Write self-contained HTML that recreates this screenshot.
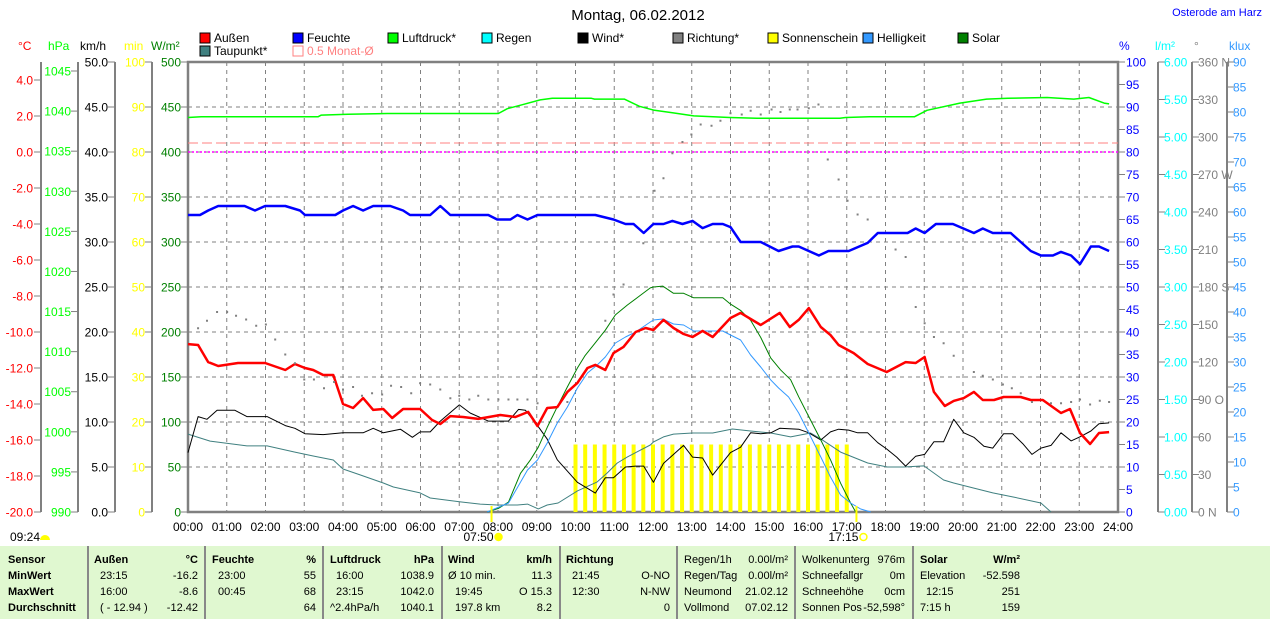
<!DOCTYPE html>
<html><head><meta charset="utf-8">
<style>
html,body{margin:0;padding:0;background:#fff;}
body{width:1270px;height:619px;overflow:hidden;position:relative;font-family:"Liberation Sans",sans-serif;}
svg{position:absolute;left:0;top:0;}
#tbl{position:absolute;left:0;top:546px;width:1270px;height:73px;background:#e0f8d0;font-size:11px;color:#000;}
#tbl .c{position:absolute;top:0;height:73px;border-left:2px solid #888;}
#tbl span{position:absolute;white-space:nowrap;}
#tbl .b{font-weight:bold;}
</style></head><body>
<svg id="chart" width="1270" height="619" xmlns="http://www.w3.org/2000/svg" font-family="Liberation Sans, sans-serif">
<text x="638" y="20" font-size="15" text-anchor="middle" fill="#000">Montag, 06.02.2012</text>
<text x="1262" y="16" font-size="11" text-anchor="end" fill="#0000ff">Osterode am Harz</text>
<g id="legend"></g>
<g id="axes"></g>
<g id="grid"></g>
<g id="series"></g>
</svg>
<div id="tbl">
<div class="c" style="left:87px"></div><div class="c" style="left:204px"></div><div class="c" style="left:322px"></div><div class="c" style="left:441px"></div><div class="c" style="left:559px"></div><div class="c" style="left:676px"></div><div class="c" style="left:794px"></div><div class="c" style="left:912px"></div>
<span class="b" style="left:8px;top:8px">Sensor</span><span class="b" style="left:8px;top:24px">MinWert</span><span class="b" style="left:8px;top:40px">MaxWert</span><span class="b" style="left:8px;top:56px">Durchschnitt</span>
<span class="b" style="left:94px;top:8px">Außen</span><span class="b" style="right:1072px;top:8px">°C</span>
<span style="left:100px;top:24px">23:15</span><span style="right:1072px;top:24px">-16.2</span>
<span style="left:100px;top:40px">16:00</span><span style="right:1072px;top:40px">-8.6</span>
<span style="left:100px;top:56px">( - 12.94 )</span><span style="right:1072px;top:56px">-12.42</span>
<span class="b" style="left:212px;top:8px">Feuchte</span><span class="b" style="right:954px;top:8px">%</span>
<span style="left:218px;top:24px">23:00</span><span style="right:954px;top:24px">55</span>
<span style="left:218px;top:40px">00:45</span><span style="right:954px;top:40px">68</span>
<span style="right:954px;top:56px">64</span>
<span class="b" style="left:330px;top:8px">Luftdruck</span><span class="b" style="right:836px;top:8px">hPa</span>
<span style="left:336px;top:24px">16:00</span><span style="right:836px;top:24px">1038.9</span>
<span style="left:336px;top:40px">23:15</span><span style="right:836px;top:40px">1042.0</span>
<span style="left:330px;top:56px">^2.4hPa/h</span><span style="right:836px;top:56px">1040.1</span>
<span class="b" style="left:448px;top:8px">Wind</span><span class="b" style="right:718px;top:8px">km/h</span>
<span style="left:448px;top:24px">Ø 10 min.</span><span style="right:718px;top:24px">11.3</span>
<span style="left:455px;top:40px">19:45</span><span style="right:718px;top:40px">O 15.3</span>
<span style="left:455px;top:56px">197.8 km</span><span style="right:718px;top:56px">8.2</span>
<span class="b" style="left:566px;top:8px">Richtung</span>
<span style="left:572px;top:24px">21:45</span><span style="right:600px;top:24px">O-NO</span>
<span style="left:572px;top:40px">12:30</span><span style="right:600px;top:40px">N-NW</span>
<span style="right:600px;top:56px">0</span>
<span style="left:684px;top:8px">Regen/1h</span><span style="right:482px;top:8px">0.00l/m²</span>
<span style="left:684px;top:24px">Regen/Tag</span><span style="right:482px;top:24px">0.00l/m²</span>
<span style="left:684px;top:40px">Neumond</span><span style="right:482px;top:40px">21.02.12</span>
<span style="left:684px;top:56px">Vollmond</span><span style="right:482px;top:56px">07.02.12</span>
<span style="left:802px;top:8px">Wolkenunterg</span><span style="right:365px;top:8px">976m</span>
<span style="left:802px;top:24px">Schneefallgr</span><span style="right:365px;top:24px">0m</span>
<span style="left:802px;top:40px">Schneehöhe</span><span style="right:365px;top:40px">0cm</span>
<span style="left:802px;top:56px">Sonnen Pos</span><span style="right:365px;top:56px">-52,598°</span>
<span class="b" style="left:920px;top:8px">Solar</span><span class="b" style="right:250px;top:8px">W/m²</span>
<span style="left:920px;top:24px">Elevation</span><span style="right:250px;top:24px">-52.598</span>
<span style="left:926px;top:40px">12:15</span><span style="right:250px;top:40px">251</span>
<span style="left:920px;top:56px">7:15 h</span><span style="right:250px;top:56px">159</span>
</div>
<script>
// ---- data ----
const tempTimes=[0,0.26,0.52,0.78,1.29,1.99,2.51,2.76,3.02,3.23,3.49,3.75,4.0,4.26,4.52,4.78,5.04,5.27,5.55,5.99,6.30,6.51,6.77,7.10,7.49,8.06,8.45,8.78,9.02,9.27,9.53,9.79,10.05,10.31,10.51,10.77,10.98,11.24,11.55,11.81,12.01,12.27,12.53,12.79,13.02,13.28,13.54,14.0,14.26,14.78,15.27,15.53,15.76,16.02,16.33,16.58,16.79,17.18,17.54,18.03,18.52,18.78,19.01,19.25,19.53,19.76,20.02,20.28,20.51,20.80,21.05,21.49,21.75,22.06,22.53,22.76,23.02,23.28,23.51,23.77];
const tempValues=[-10.67,-10.72,-11.67,-11.89,-11.72,-11.72,-12.11,-11.78,-12.0,-12.11,-12.39,-12.39,-14.0,-14.22,-13.67,-14.33,-14.28,-14.78,-14.28,-14.28,-14.89,-15.11,-14.67,-14.72,-14.83,-14.61,-14.72,-14.44,-15.22,-14.22,-14.17,-13.33,-12.83,-12.0,-11.83,-12.11,-11.17,-10.83,-10.0,-9.78,-9.89,-9.33,-9.78,-10.11,-10.28,-9.94,-10.28,-9.22,-8.94,-9.61,-8.94,-9.72,-9.33,-8.67,-9.72,-10.17,-10.72,-11.17,-11.78,-12.22,-11.67,-11.72,-11.39,-13.33,-14.11,-13.83,-13.67,-13.33,-13.78,-13.78,-13.61,-13.61,-13.78,-13.78,-14.5,-14.28,-15.61,-16.22,-15.61,-15.56];
const humTimes=[0,0.31,0.52,0.78,1.46,1.73,1.99,2.51,2.89,3.02,3.80,4.0,4.26,4.52,4.78,5.22,5.55,5.73,6.25,6.51,6.77,7.75,7.98,8.32,8.50,8.76,9.02,10.51,10.98,11.29,11.50,11.76,12.01,12.27,12.50,12.76,13.02,13.28,13.54,13.80,14.0,14.26,14.78,15.24,15.60,15.76,16.28,16.53,17.05,17.54,17.80,18.57,18.78,19.01,19.30,19.74,20.28,20.51,20.77,21.23,21.75,22.01,22.32,22.53,22.79,23.02,23.30,23.51,23.77];
const humValues=[66,66,67,68,68,67,68,68,67,66,66,67,68,67,68,68,67,66,66,68,66,66,65,65,66,65,66,66,65,64,64,62,64,64,64.7,64,64.7,63.1,64,64,63.3,60,60,58,59,59,57,58,58,59.8,62,62,63,62,64,64,62,63,62,62,58,57,57,57.8,57,55.1,59,59,58];
const presTimes=[0,0.34,3.36,3.44,4.13,5.14,8.01,8.24,8.63,9.09,9.40,10.41,10.49,11.26,11.65,12.04,12.50,13.05,13.98,14.67,16.82,16.97,17.59,18.75,19.07,19.92,20.61,21.16,22.17,22.86,23.25,23.64,23.77];
const presValues=[1039.2,1039.3,1039.3,1039.5,1039.6,1039.7,1039.7,1040.3,1040.8,1041.4,1041.6,1041.6,1041.5,1041.5,1040.6,1040.1,1039.8,1039.4,1039.2,1039.1,1039.1,1039.2,1039.3,1039.3,1040.1,1041.0,1041.5,1041.6,1041.7,1041.5,1041.7,1041.0,1040.9];
const windTimes=[0,0.26,0.49,0.75,1.21,1.52,2.04,2.51,2.76,3.02,3.49,4.0,4.52,4.78,5.04,5.48,5.79,5.99,6.25,6.51,7.0,7.28,7.75,8.27,8.53,8.71,9.02,9.27,9.53,10.05,10.51,10.77,10.98,11.29,11.55,11.76,12.01,12.27,12.79,13.02,13.28,13.54,14.0,14.26,14.52,14.78,15.04,15.27,15.76,16.02,16.33,16.58,16.79,17.05,17.28,17.54,17.80,18.03,18.29,18.52,18.78,19.01,19.25,19.50,19.76,20.02,20.28,20.54,20.77,21.05,21.28,21.54,21.78,22.01,22.27,22.53,22.79,23.04,23.30,23.51,23.77];
const windValues=[6.6,10.6,10.3,11.3,11.3,10.6,10.6,9.6,9.3,8.7,8.6,8.8,8.8,9.3,8.8,9.2,8.3,8.9,8.9,10.1,11.9,11.0,10.1,10.1,11.4,11.3,9.6,8.1,5.8,3.3,2.1,3.8,3.8,5.0,5.1,5.1,3.3,5.4,7.4,6.1,6.0,4.1,6.6,7.2,8.8,8.7,8.8,9.3,9.2,8.8,8.0,8.9,9.2,9.1,8.8,8.8,7.7,7.0,6.1,5.1,6.2,6.4,7.8,7.8,10.3,8.8,8.3,7.3,7.1,8.7,8.7,7.6,6.4,7.1,7.4,8.8,7.9,8.4,9.0,9.8,9.9];
const solarTimes=[7.72,8.01,8.27,8.58,8.84,9.04,9.27,9.53,9.79,10.05,10.25,10.51,10.77,11.03,11.34,11.62,11.93,12.01,12.25,12.53,12.79,13.05,13.80,14.0,14.26,14.52,14.78,15.04,15.29,15.55,15.76,16.02,16.33,16.58,16.84,17.10,17.23];
const solarValues=[0,4,11,43,58,72,94,117,139,160,174,188,202,219,230,239,249,250,251,243,243,238,238,231,224,213,194,171,158,147,128,106,80,58,32,10,0];
const luxTimes=[7.72,8.27,8.76,9.02,9.27,9.53,9.79,10.05,10.31,10.56,10.77,11.03,11.29,11.55,11.93,12.01,12.25,12.53,12.79,13.05,13.80,14.0,14.26,14.52,14.78,15.04,15.24,15.50,15.76,16.02,16.33,16.58,16.84,17.10,17.36,17.62];
const luxValues=[0,1.8,8.4,10.4,13.8,17.8,21,24.8,27.8,29.4,31,33.8,35,36,38,38.4,38.6,37.6,37.4,36.2,36.2,35.4,34.4,31.4,29,26.4,24.8,23,19.8,15.8,11,7,3.4,1.8,0.6,0];
const dewTimes=[0,0.57,1.52,2.04,2.76,3.23,3.75,4.0,4.44,5.04,5.30,5.99,6.25,7.03,7.54,7.98,8.50,8.76,9.04,9.27,9.55,10.05,10.56,10.82,11.08,11.34,11.93,12.01,12.27,12.53,13.02,13.54,14.05,14.52,15.04,15.55,16.07,16.33,16.84,17.54,18.05,18.47,18.99,19.50,19.76,20.28,20.77,21.31,22.01,22.27];
const dewValues=[-15.67,-16.06,-16.33,-16.33,-16.67,-16.89,-17.11,-17.61,-17.94,-18.39,-18.61,-18.94,-19.22,-19.44,-19.56,-19.61,-19.61,-19.56,-19.83,-19.61,-19.5,-18.83,-18.33,-17.83,-17.28,-16.94,-16.28,-16.11,-15.83,-15.67,-15.61,-15.61,-15.39,-15.5,-15.61,-15.83,-15.61,-15.94,-16.67,-17.28,-17.5,-17.5,-17.44,-18.22,-18.39,-18.67,-18.94,-19.17,-19.5,-20];
const dirTimes=[0.26,0.49,0.75,1.01,1.24,1.50,1.76,2.01,2.25,2.51,2.76,3.00,3.25,3.51,3.77,4.00,4.26,4.49,4.75,5.01,5.24,5.50,5.76,5.99,6.25,6.51,6.77,7.00,7.26,7.49,7.75,8.01,8.27,8.50,8.76,9.02,9.79,10.77,10.98,11.24,11.75,12.04,12.27,12.50,12.76,12.99,13.23,13.51,13.74,14.00,14.29,14.52,14.78,15.06,15.29,15.53,15.73,16.02,16.27,16.51,16.79,17.02,17.28,17.54,18.26,18.52,18.78,19.01,19.25,19.50,19.76,20.28,20.51,20.77,21.03,21.26,21.49,21.78,22.27,22.53,22.79,23.02,23.28,23.53,23.77];
const dirValues=[147,153,160,160,157,154,149,150,138,126,119,106,106,99,104,98,100,93,95,94,101,100,95,103,102,98,91,93,90,93,90,90,90,90,90,87,88,153,174,182,215,257,267,287,296,302,310,309,313,319,318,321,318,322,320,322,322,323,326,282,266,249,238,234,210,204,164,151,140,135,125,112,109,106,102,99,95,88,87,87,88,90,86,89,88];
const sunTimes=[10,10.25,10.5,10.75,11,11.25,11.5,11.75,12,12.25,12.5,12.75,13,13.25,13.5,13.75,14,14.25,14.5,14.75,15,15.25,15.5,15.75,16,16.25,16.5,16.75,17];
const sunValues=[15,15,15,15,15,15,15,15,15,15,15,15,15,15,15,15,15,15,15,15,15,15,15,15,15,15,15,15,15];
const hourLabels=["00:00","01:00","02:00","03:00","04:00","05:00","06:00","07:00","08:00","09:00","10:00","11:00","12:00","13:00","14:00","15:00","16:00","17:00","18:00","19:00","20:00","21:00","22:00","23:00","24:00"];
const tempTicks=[4,2,0,-2,-4,-6,-8,-10,-12,-14,-16,-18,-20];
const presTicks=[1045,1040,1035,1030,1025,1020,1015,1010,1005,1000,995,990];
const windTicks=[50,45,40,35,30,25,20,15,10,5,0];
const minTicks=[100,90,80,70,60,50,40,30,20,10,0];
const solarTicks=[500,450,400,350,300,250,200,150,100,50,0];
const humTicks=[100,95,90,85,80,75,70,65,60,55,50,45,40,35,30,25,20,15,10,5,0];
const rainTicks=[6,5.5,5,4.5,4,3.5,3,2.5,2,1.5,1,0.5,0];
const dirTicks=[360,330,300,270,240,210,180,150,120,90,60,30,0];
const dirNames={360:" N",270:" W",180:" S",90:" O",0:" N"};
const luxTicks=[90,85,80,75,70,65,60,55,50,45,40,35,30,25,20,15,10,5,0];
const monthAvgTemp=0.5;

// ---- scales ----
const L=188,R=1118,T=62,B=512,H=B-T;
const X=h=>L+h*(R-L)/24;
function yTemp(v){return 152-v*18;}
function yPres(v){return B-(v-990)*(B-71)/55;}
function yWind(v){return B-v*H/50;}
function yMin(v){return B-v*H/100;}
function ySol(v){return B-v*H/500;}
function yHum(v){return B-v*H/100;}
function yRain(v){return B-v*H/6;}
function yDir(v){return B-v*H/360;}
function yLux(v){return B-v*H/90;}
const NS="http://www.w3.org/2000/svg";
function mk(tag,attrs,parent){const e=document.createElementNS(NS,tag);for(const k in attrs)e.setAttribute(k,attrs[k]);parent.appendChild(e);return e;}
const gA=document.getElementById('axes'),gG=document.getElementById('grid'),gS=document.getElementById('series'),gL=document.getElementById('legend');

for(let i=0;i<=10;i++){const y=T+i*45;const l=mk('line',{x1:L,x2:R,y1:y,y2:y,stroke:'#808080','stroke-dasharray':'4,4','stroke-width':1},gG);

}
for(let i=1;i<24;i++){const x=X(i);const l=mk('line',{x1:x,x2:x,y1:T,y2:B,stroke:'#808080','stroke-dasharray':'4,4','stroke-width':1},gG);

}
const fr=mk('path',{d:`M${L},${B}V${T}H${R}V${B}Z`,fill:'none',stroke:'#808080','stroke-width':2.5},gA);



function axis(x,ticks,yf,color,name,fmt,side,lx){
  const ln=mk('line',{x1:x,x2:x,y1:T,y2:B,stroke:'#808080','stroke-width':2},gA);
  
  
  ticks.forEach(v=>{const y=yf(v);
    mk('line',{x1:side==='l'?x-7:x,x2:side==='l'?x:x+7,y1:y,y2:y,stroke:'#808080','stroke-width':1},gA);
    const t=mk('text',{x:lx,y:y+4.5,'font-size':12,fill:color,'text-anchor':side==='l'?'end':'start'},gA);
    t.textContent=fmt(v);
    
    });
}
axis(41,tempTicks,yTemp,'#ff0000','temp',v=>v.toFixed(1),'l',33);
axis(78,presTicks,yPres,'#00ff00','pressure',v=>String(v),'l',71);
axis(115,windTicks,yWind,'#000','wind',v=>v.toFixed(1),'l',108);
axis(152,minTicks,yMin,'#ffff00','sunshine',v=>String(v),'l',145);
axis(L,solarTicks,ySol,'#008000','solar',v=>String(v),'l',181);
axis(R,humTicks,yHum,'#0000ff','humidity',v=>String(v),'r',1126);
axis(1158,rainTicks,yRain,'#00ffff','rain',v=>v.toFixed(2),'r',1164);
axis(1192,dirTicks,yDir,'#808080','direction',v=>v+(dirNames[v]||''),'r',1198);
axis(1227,luxTicks,yLux,'#3399ff','lux',v=>String(v),'r',1233);
[[18,'°C','#ff0000'],[48,'hPa','#00ff00'],[80,'km/h','#000'],[124,'min','#ffff00'],[151,'W/m²','#008000'],[1119,'%','#0000ff'],[1155,'l/m²','#00ffff'],[1194,'°','#808080'],[1229,'klux','#3399ff']].forEach(a=>{
 const t=mk('text',{x:a[0],y:50,'font-size':12,fill:a[2]},gA);t.textContent=a[1];
 
 });
hourLabels.forEach((s,i)=>{const t=mk('text',{x:X(i),y:531,'font-size':12,'text-anchor':'middle',fill:'#000'},gA);t.textContent=s;
 
 });

const ml=mk('line',{x1:L,x2:R,y1:yTemp(monthAvgTemp),y2:yTemp(monthAvgTemp),stroke:'#ff8080','stroke-dasharray':'10,4','stroke-width':1},gS);


const zl=mk('line',{x1:L,x2:R,y1:yTemp(0),y2:yTemp(0),stroke:'#ff00ff','stroke-dasharray':'2,2','stroke-width':1.5},gS);



sunTimes.forEach((h,i)=>{const x=X(h);const r=mk('rect',{x:x-2,y:yMin(sunValues[i]),width:4,height:B-yMin(sunValues[i]),fill:'#ffff00'},gS);
 
 });

function line(times,vals,yf,color,w,name){
 const d=times.map((h,i)=>(i?'L':'M')+X(h).toFixed(1)+','+yf(vals[i]).toFixed(1)).join('');
 const p=mk('path',{d:d,fill:'none',stroke:color,'stroke-width':w,'stroke-linejoin':'round'},gS);
 
 }
line(dewTimes,dewValues,yTemp,'#408080',1,'dewpoint-line');
line(windTimes,windValues,yWind,'#000000',1,'wind-line');
line(solarTimes,solarValues,ySol,'#008000',1,'solar-line');
line(luxTimes,luxValues,yLux,'#3399ff',1,'brightness-line');
line(presTimes,presValues,yPres,'#00ff00',1.5,'pressure-line');
line(humTimes,humValues,yHum,'#0000ff',2.5,'humidity-line');
line(tempTimes,tempValues,yTemp,'#ff0000',2.5,'temperature-line');
dirTimes.forEach((h,i)=>{const r=mk('rect',{x:X(h)-1,y:yDir(dirValues[i])-1,width:2,height:2,fill:'#808080'},gS);
 
 });

[[7+50/60,'07:50'],[17.25,'17:15']].forEach(s=>{const x=X(s[0]);
 const l=mk('line',{x1:x,x2:x,y1:B-6,y2:B+10,stroke:'#ffff00','stroke-width':2},gS);
 
 
 const t=mk('text',{x:x+2,y:541,'font-size':12,'text-anchor':'end',fill:'#000'},gS);t.textContent=s[1];
 
 
 mk('circle',{cx:x+7,cy:537,r:3.5,fill:s[1]==='07:50'?'#ffff00':'none',stroke:'#ffff00','stroke-width':1.5},gS);});
const ml2=mk('text',{x:10,y:541,'font-size':12,fill:'#000'},gS);ml2.textContent='09:24';


mk('path',{d:'M40,540 a5,5 0 0 1 10,0 Z',fill:'#ffff00'},gS);

const leg=[[200,38,'#ff0000','Außen'],[293,38,'#0000ff','Feuchte'],[388,38,'#00ff00','Luftdruck*'],[482,38,'#00ffff','Regen'],[578,38,'#000000','Wind*'],[673,38,'#808080','Richtung*'],[768,38,'#ffff00','Sonnenschein'],[863,38,'#3399ff','Helligkeit'],[958,38,'#008000','Solar'],[200,51,'#408080','Taupunkt*']];
leg.forEach(e=>{const r=mk('rect',{x:e[0],y:e[1]-5,width:10,height:10,fill:e[2],stroke:'#000','stroke-width':1},gL);
 
 
 const t=mk('text',{x:e[0]+14,y:e[1]+4,'font-size':12,fill:'#000'},gL);t.textContent=e[3];
 
 });
const mr=mk('rect',{x:293,y:46,width:10,height:10,fill:'none',stroke:'#ff8080','stroke-width':1},gL);


const mt=mk('text',{x:307,y:55,'font-size':12,fill:'#ff8080'},gL);mt.textContent='0.5 Monat-Ø';


</script>
</body></html>
